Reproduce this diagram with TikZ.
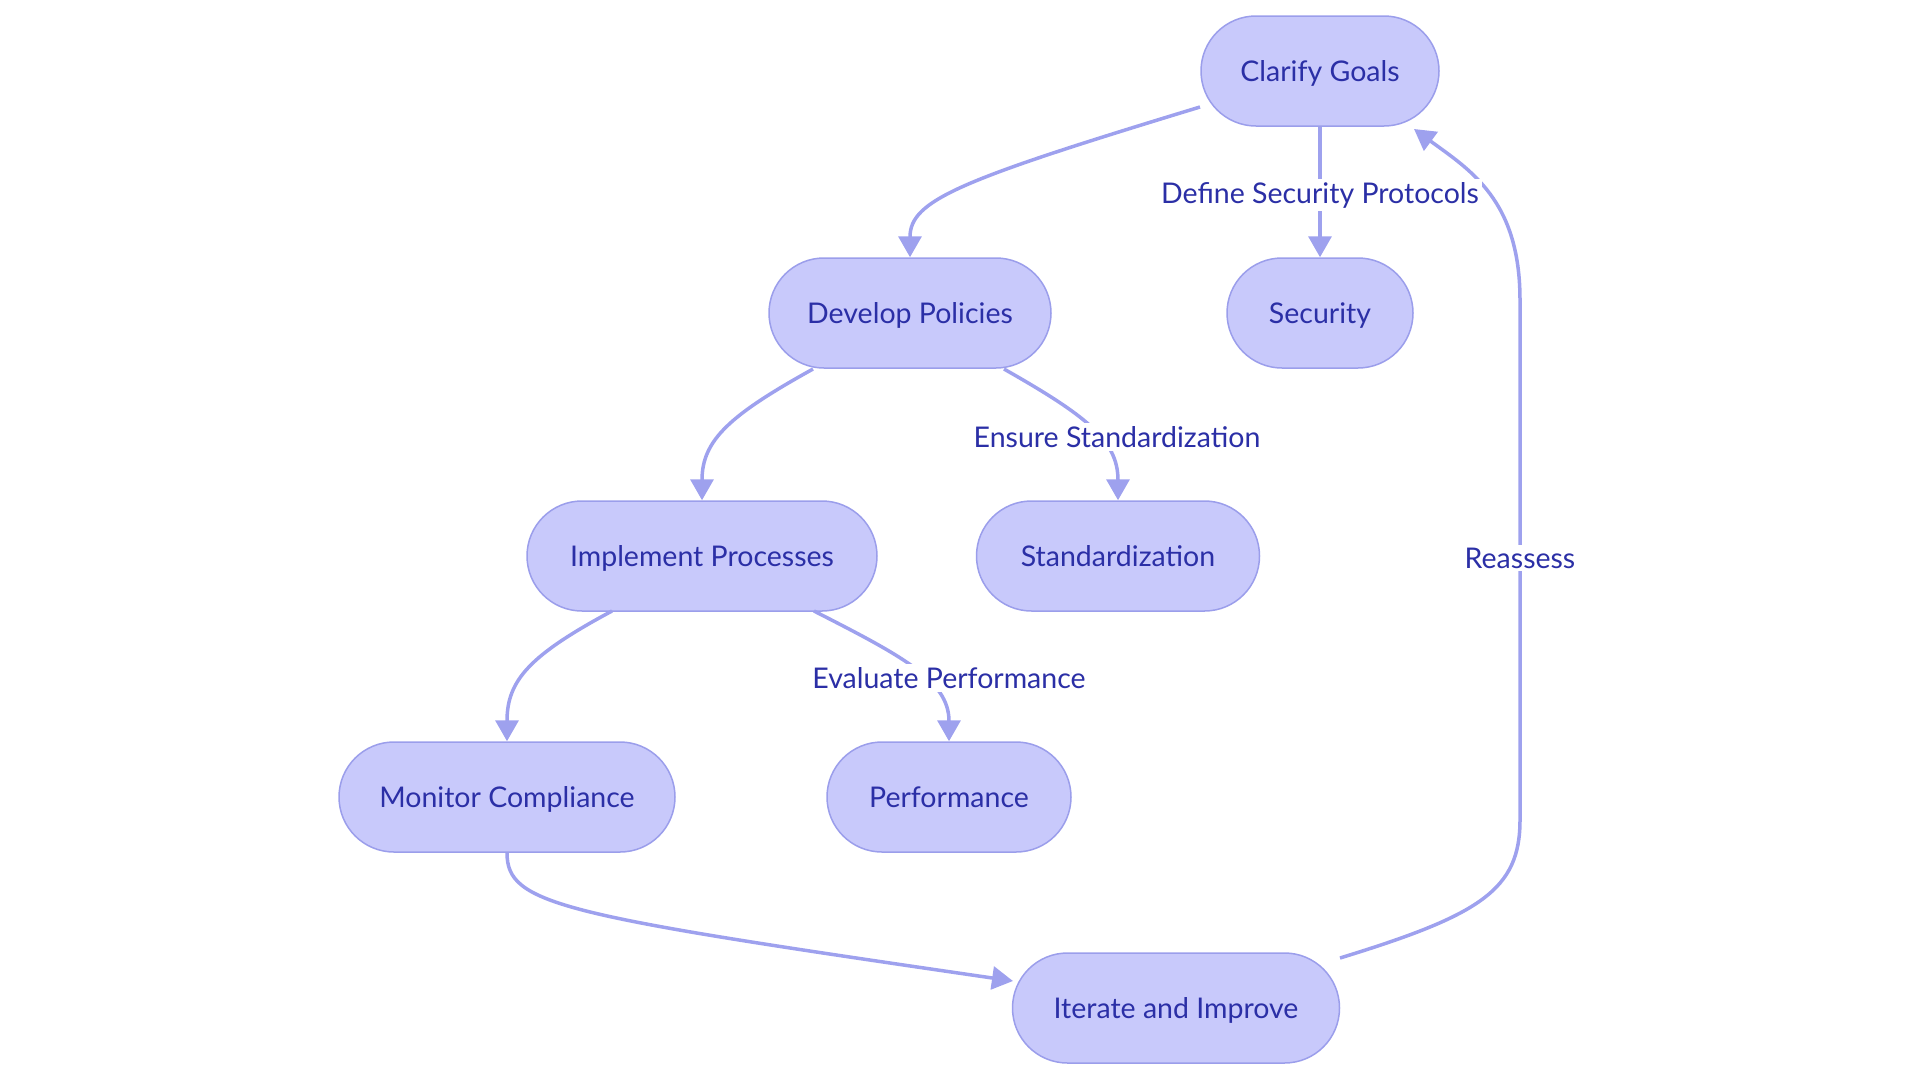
\documentclass[tikz,border=0pt]{standalone}
\usepackage{fontspec}
\setmainfont{Lato}
\usetikzlibrary{arrows.meta,shapes.misc,calc}
\definecolor{nodefill}{HTML}{C8C9FB}
\definecolor{nodeline}{HTML}{9B9EEB}
\definecolor{flowline}{HTML}{9EA1EE}
\definecolor{textblue}{HTML}{2B2FA6}
\tikzset{
  stage/.style={rounded rectangle, draw=nodeline, fill=nodefill, line width=1.5pt,
    minimum height=110pt, inner xsep=0pt, text height=20.5pt, text depth=0pt,
    text=textblue, font=\fontsize{28.5}{32}\selectfont},
  flow/.style={draw=flowline, line width=3.5pt, -{Triangle[length=21pt,width=23pt]}},
  lbl/.style={fill=white, text=textblue, inner sep=3pt, font=\fontsize{28.5}{32}\selectfont}
}
\begin{document}
\begin{tikzpicture}[x=1pt,y=-1pt]
\useasboundingbox (0,0) rectangle (1920,1080);
\node[stage, minimum width=238pt] (cg) at (1320,71) {Clarify Goals};
\node[stage, minimum width=282pt] (dp) at (910,313) {Develop Policies};
\node[stage, minimum width=186pt] (sec) at (1320,313) {Security};
\node[stage, minimum width=350pt] (ip) at (702,556) {Implement Processes};
\node[stage, minimum width=283pt] (std) at (1118,556) {Standardization};
\node[stage, minimum width=336pt] (mc) at (507,797) {Monitor Compliance};
\node[stage, minimum width=244pt] (perf) at (949,797) {Performance};
\node[stage, minimum width=327pt] (ii) at (1176,1008) {Iterate and Improve};

\draw[flow] ($(cg)+(-120,36)$) .. controls (960,180) and (910,200) .. (dp.north);
\draw[flow] (cg.south) -- (sec.north);
\draw[flow] ($(dp)+(-97,56)$) .. controls (730,415) and (702,440) .. (ip.north);
\draw[flow] ($(dp)+(94,56)$) .. controls (1085,415) and (1118,440) .. (std.north);
\draw[flow] ($(ip)+(-90,55)$) .. controls (530,655) and (507,680) .. (mc.north);
\draw[flow] ($(ip)+(112,55)$) .. controls (900,655) and (949,680) .. (perf.north);
\draw[flow] (mc.south) .. controls (507,905) and (560,915) .. ($(ii)+(-163,-27)$);
\draw[flow] ($(ii)+(164,-50)$) .. controls (1480,915) and (1520,890) .. (1520,820) -- (1520,300)
  .. controls (1520,200) and (1470,170) .. ($(cg)+(94,58)$);

\node[lbl] (l1) at (1320,195) {Define Security Protocols};
\node[lbl] (l2) at (1117,437) {Ensure Standardization};
\node[lbl] (l3) at (949,678) {Evaluate Performance};
\node[lbl] (l4) at (1520,558) {Reassess};
\end{tikzpicture}
\end{document}
